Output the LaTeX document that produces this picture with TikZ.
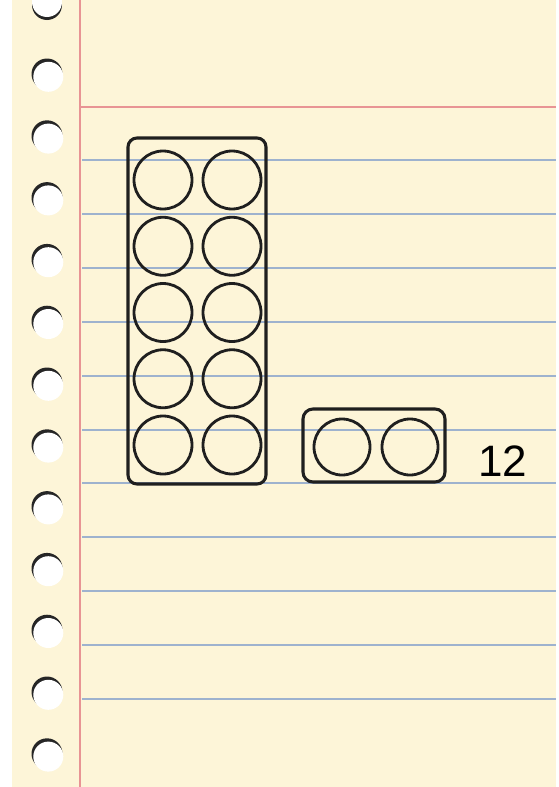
\documentclass[tikz,border=0pt]{standalone}
\usepackage{fontspec}
\setsansfont{Liberation Sans}
\begin{document}
\begin{tikzpicture}[x=1pt,y=-1pt,
  frameline/.style={draw=black!88,line width=3.1pt},
  dot/.style={draw=black!88,line width=2.8pt},
  ruleline/.style={draw=rulecol,line width=2pt},
  marginline/.style={draw=margincol,line width=1.8pt}]
\definecolor{paper}{RGB}{253,245,216}
\definecolor{rulecol}{RGB}{158,178,206}
\definecolor{margincol}{RGB}{232,148,148}
\useasboundingbox (0,0) rectangle (558,787);
\fill[white] (0,0) rectangle (558,787);
\fill[paper] (12,0) rectangle (556,787);
% margin lines
\draw[marginline] (80,0) -- (80,787);
\draw[marginline] (81,107) -- (556,107);
% blue rules
\foreach \k in {0,...,10} {
  \draw[ruleline] (82,{160+53.9*\k}) -- (556,{160+53.9*\k});
}
% binder holes
\begin{scope}
\clip (12,0) rectangle (80,787);
\fill[black!85] (47,5) circle (15);
\fill[white] (47,2) circle (15);
\end{scope}
\foreach \k in {0,...,11} {
  \fill[black!85] (47,{74+61.8*\k}) circle (15.5);
  \fill[white] (48.3,{76.8+61.8*\k}) circle (15);
}
% ten frame
\draw[frameline,rounded corners=9pt] (128,138) rectangle (266,484);
\foreach \r in {0,...,4} {
  \draw[dot] (163,{180+66.25*\r}) circle (29);
  \draw[dot] (232,{180+66.25*\r}) circle (29);
}
% two frame
\draw[frameline,rounded corners=10pt] (303,409) rectangle (445,482);
\draw[dot] (342,447) circle (28);
\draw[dot] (410,447) circle (28);
% label
\node[font=\sffamily\fontsize{44}{44}\selectfont,inner sep=0pt] (lbl) at (503,461) {12};
\end{tikzpicture}
\end{document}
